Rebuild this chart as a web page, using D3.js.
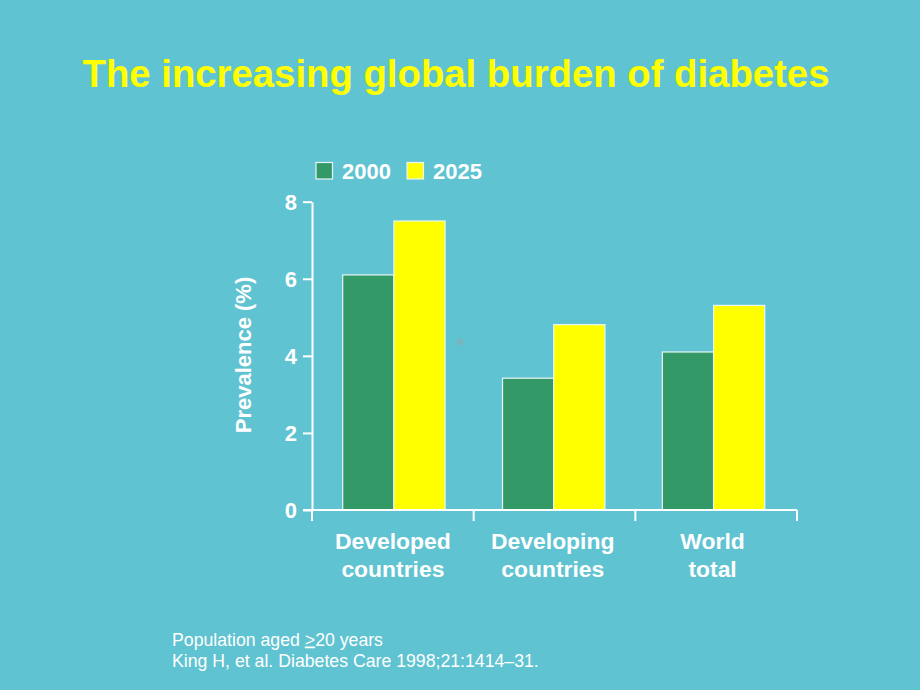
<!DOCTYPE html>
<html>
<head>
<meta charset="utf-8">
<script src="https://cdn.jsdelivr.net/npm/d3@7"></script>
<style>
  html, body { margin: 0; padding: 0; background: #5fc3d1; }
  svg { display: block; }
  text { font-family: "Liberation Sans", Arial, sans-serif; }
</style>
</head>
<body>
<svg id="chart" width="920" height="690"></svg>
<script>
const categories = [["Developed", "countries"], ["Developing", "countries"], ["World", "total"]];
const categoryKeys = ["Developed countries", "Developing countries", "World total"];
const seriesNames = ["2000", "2025"];
const values2000 = [6.1, 3.42, 4.1];
const values2025 = [7.5, 4.81, 5.31];
const yTicks = [0, 2, 4, 6, 8];

const colors = { "2000": "#339966", "2025": "#ffff00" };
const svg = d3.select("#chart");

svg.append("rect").attr("width", 920).attr("height", 690).attr("fill", "#5fc3d1");

// Title
svg.append("text")
  .attr("x", 456).attr("y", 87)
  .attr("text-anchor", "middle")
  .attr("fill", "#ffff00")
  .attr("font-weight", "bold")
  .attr("font-size", 38.3)
  .text("The increasing global burden of diabetes");

// axis band scale (tick boundaries) and bar-group band scale
const x = d3.scaleBand().domain(categoryKeys).range([312, 797]).paddingInner(0).paddingOuter(0);
const xg = d3.scaleBand().domain(categoryKeys).range([312, 791.5]).paddingInner(0).paddingOuter(0);
const x1 = d3.scaleBand().domain(seriesNames).range([30.7, 133.1]).paddingInner(0).paddingOuter(0);
const y = d3.scaleLinear().domain([0, 8]).range([510, 201.7]);

const data = categoryKeys.map((c, i) => ({ cat: c, vals: [
  { s: "2000", v: values2000[i] }, { s: "2025", v: values2025[i] }
]}));

// Bars
const g = svg.append("g");
g.selectAll("g.grp").data(data).join("g")
  .attr("class", "grp")
  .attr("transform", d => `translate(${xg(d.cat)},0)`)
  .selectAll("rect").data(d => d.vals).join("rect")
  .attr("x", d => x1(d.s))
  .attr("width", x1.bandwidth())
  .attr("y", d => y(d.v))
  .attr("height", d => y(0) - y(d.v))
  .attr("fill", d => colors[d.s])
  .attr("stroke", "#e8f6f6")
  .attr("stroke-width", 1.2);

// Y axis
const yAxis = d3.axisLeft(y).tickValues(yTicks).tickSize(9).tickSizeOuter(0).tickPadding(6).tickFormat(d3.format("d"));
const yg = svg.append("g").attr("transform", "translate(312,0)").call(yAxis);
yg.select(".domain").attr("stroke", "#ffffff").attr("stroke-width", 2);
yg.selectAll(".tick line").attr("stroke", "#ffffff").attr("stroke-width", 2);
yg.selectAll(".tick text")
  .attr("fill", "#ffffff").attr("font-size", 22).attr("font-weight", "bold")
  .attr("font-family", "Liberation Sans, Arial, sans-serif")
  .attr("dy", "0.36em");

// X axis line and boundary ticks
svg.append("line")
  .attr("x1", 303).attr("x2", x.range()[1])
  .attr("y1", y(0)).attr("y2", y(0))
  .attr("stroke", "#ffffff").attr("stroke-width", 2);
const boundaries = categoryKeys.map(c => x(c)).concat([x.range()[1]]);
svg.selectAll("line.xt").data(boundaries).join("line")
  .attr("class", "xt")
  .attr("x1", d => d).attr("x2", d => d)
  .attr("y1", y(0)).attr("y2", y(0) + 11)
  .attr("stroke", "#ffffff").attr("stroke-width", 2);

// X labels (centered under each bar pair)
const pairCenter = (x1.range()[0] + x1.range()[1]) / 2;
svg.selectAll("text.xl").data(categories).join("text")
  .attr("class", "xl")
  .attr("text-anchor", "middle")
  .attr("fill", "#ffffff").attr("font-weight", "bold").attr("font-size", 22.9)
  .attr("transform", (d, i) => `translate(${xg(categoryKeys[i]) + pairCenter - 1},549)`)
  .selectAll("tspan").data(d => d).join("tspan")
  .attr("x", 0).attr("dy", (d, i) => i === 0 ? 0 : 28)
  .text(d => d);

// Y title
svg.append("text")
  .attr("transform", "translate(251,355) rotate(-90)")
  .attr("text-anchor", "middle")
  .attr("fill", "#ffffff").attr("font-weight", "bold").attr("font-size", 22)
  .text("Prevalence (%)");

// Legend
const legend = svg.append("g");
const legendX = [316, 407];
seriesNames.forEach((s, i) => {
  legend.append("rect")
    .attr("x", legendX[i]).attr("y", 162.5).attr("width", 16.5).attr("height", 16.5)
    .attr("fill", colors[s]).attr("stroke", "#e8f6f6").attr("stroke-width", 1.2);
  legend.append("text")
    .attr("x", legendX[i] + 26).attr("y", 178.5)
    .attr("fill", "#ffffff").attr("font-weight", "bold").attr("font-size", 22)
    .text(s);
});

// Small artifact
svg.append("rect").attr("x", 457).attr("y", 339).attr("width", 6).attr("height", 6).attr("fill", "#7ab5bd");

// Footnotes
const foot = svg.append("text").attr("fill", "#ffffff").attr("font-size", 17.7);
const l1 = foot.append("tspan").attr("x", 172).attr("y", 645.5);
l1.append("tspan").text("Population aged ");
l1.append("tspan").attr("text-decoration", "underline").text(">");
l1.append("tspan").text("20 years");
foot.append("tspan").attr("x", 172).attr("y", 667).text("King H, et al. Diabetes Care 1998;21:1414\u201331.");
</script>
</body>
</html>
